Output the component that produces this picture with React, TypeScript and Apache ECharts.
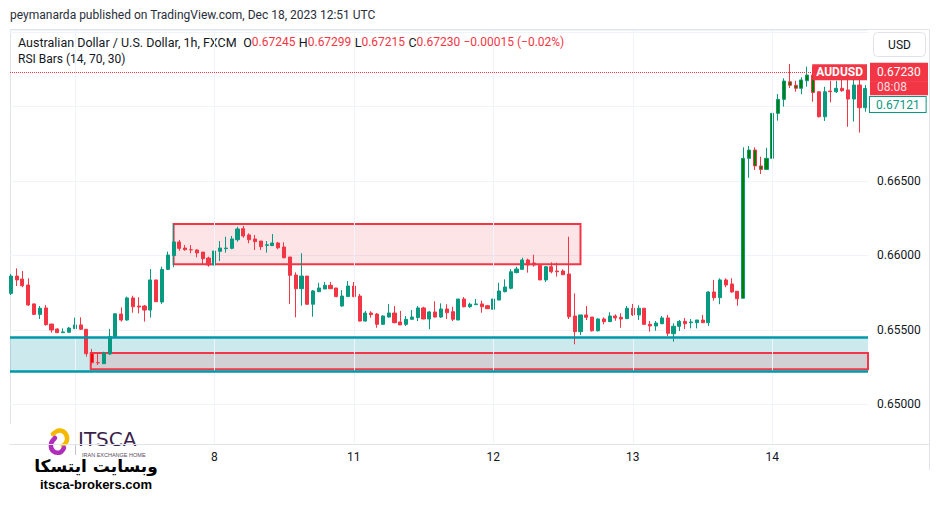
import React, { useEffect, useRef } from 'react';
import * as echarts from 'echarts';

// ---- Candle data (hourly AUDUSD, Dec 6 13:00 -> Dec 14 16:00 UTC) ----
const opens = [
  0.65746, 0.65862, 0.65842, 0.65802, 0.65675, 0.65605, 0.65648, 0.6554, 0.65507, 0.65482,
  0.65485, 0.65509, 0.65534, 0.65505, 0.65344, 0.65281, 0.65274, 0.65339, 0.65455, 0.65607,
  0.65567, 0.65715, 0.65661, 0.65661, 0.65634, 0.65836, 0.65688, 0.65907, 0.65999, 0.66091,
  0.6605, 0.66039, 0.66037, 0.66023, 0.65983, 0.65936, 0.66028, 0.66046, 0.66048, 0.66106,
  0.6618, 0.66138, 0.66111, 0.66097, 0.66068, 0.66066, 0.66084, 0.66057, 0.6599, 0.65869,
  0.65777, 0.65862, 0.65673, 0.65757, 0.65775, 0.658, 0.65782, 0.65661, 0.65724, 0.65795,
  0.65728, 0.6556, 0.65614, 0.65607, 0.65538, 0.65587, 0.65614, 0.65554, 0.65538, 0.65572,
  0.65583, 0.65648, 0.65574, 0.65621, 0.65587, 0.65641, 0.65623, 0.65567, 0.65708, 0.65656,
  0.6567, 0.65675, 0.65663, 0.65639, 0.65701, 0.65757, 0.6578, 0.65885, 0.65907, 0.6597,
  0.6595, 0.65934, 0.65836, 0.65925, 0.65896, 0.65896, 0.65876, 0.65594, 0.65489, 0.65601,
  0.65587, 0.65495, 0.65574, 0.65556, 0.65594, 0.65585, 0.65576, 0.65646, 0.65601, 0.65646,
  0.65538, 0.65527, 0.65542, 0.65581, 0.65475, 0.65525, 0.65558, 0.65549, 0.65549, 0.65567,
  0.65549, 0.65755, 0.65717, 0.65836, 0.65809, 0.6576, 0.65713, 0.66652, 0.66708, 0.66601,
  0.66578, 0.66652, 0.66954, 0.67048, 0.67166, 0.67142, 0.67122, 0.67173, 0.67211, 0.67099,
  0.66931, 0.67104, 0.67099, 0.67122, 0.67111, 0.6705, 0.67144, 0.66992,
];
const closes = [
  0.65862, 0.65836, 0.65797, 0.65668, 0.65605, 0.65646, 0.65536, 0.655, 0.65482, 0.65487,
  0.65513, 0.65534, 0.65505, 0.65341, 0.65281, 0.6528, 0.65346, 0.65455, 0.65609, 0.65567,
  0.65715, 0.65656, 0.65654, 0.65634, 0.65836, 0.6569, 0.65907, 0.66003, 0.66091, 0.66048,
  0.66039, 0.66038, 0.66017, 0.65979, 0.65936, 0.6603, 0.6605, 0.6605, 0.66111, 0.66178,
  0.66131, 0.66106, 0.66093, 0.66059, 0.66072, 0.66084, 0.66052, 0.65985, 0.65867, 0.65777,
  0.65862, 0.65673, 0.65762, 0.65782, 0.658, 0.65777, 0.65724, 0.65728, 0.65795, 0.65724,
  0.6556, 0.65614, 0.65603, 0.65538, 0.65594, 0.65614, 0.65549, 0.65534, 0.65572, 0.65587,
  0.65648, 0.65574, 0.65621, 0.65587, 0.65641, 0.65616, 0.65572, 0.65708, 0.65656, 0.65673,
  0.65675, 0.65656, 0.65643, 0.65708, 0.65762, 0.65789, 0.65891, 0.65909, 0.6597, 0.65936,
  0.65936, 0.65836, 0.65925, 0.65891, 0.65891, 0.65871, 0.65589, 0.65489, 0.65601, 0.65585,
  0.65495, 0.65574, 0.65556, 0.65594, 0.65581, 0.65574, 0.65646, 0.65601, 0.65646, 0.65538,
  0.65527, 0.65547, 0.65581, 0.65478, 0.65525, 0.65558, 0.65542, 0.65554, 0.65567, 0.65549,
  0.65755, 0.65717, 0.65836, 0.65802, 0.65755, 0.6571, 0.66652, 0.66708, 0.66601, 0.66578,
  0.66652, 0.66954, 0.67048, 0.67171, 0.67142, 0.67122, 0.67178, 0.67211, 0.67094, 0.66931,
  0.67099, 0.67099, 0.67122, 0.67106, 0.6705, 0.67144, 0.66992, 0.67121,
];
const lows = [
  0.65735, 0.65795, 0.65787, 0.65661, 0.65601, 0.65574, 0.65529, 0.65482, 0.6548, 0.6548,
  0.6548, 0.65507, 0.655, 0.65321, 0.65265, 0.65265, 0.65272, 0.65332, 0.65451, 0.65556,
  0.65562, 0.65616, 0.65612, 0.65556, 0.65583, 0.65688, 0.65675, 0.65903, 0.65921, 0.66032,
  0.66032, 0.66015, 0.65988, 0.65943, 0.65925, 0.65936, 0.65963, 0.66019, 0.66042, 0.66093,
  0.66119, 0.66082, 0.66037, 0.66037, 0.66019, 0.66066, 0.66042, 0.65981, 0.65675, 0.65585,
  0.65663, 0.65668, 0.65589, 0.65757, 0.65775, 0.65777, 0.6572, 0.65656, 0.65724, 0.6572,
  0.65556, 0.65556, 0.65583, 0.65515, 0.65534, 0.65583, 0.65545, 0.65534, 0.65527, 0.65567,
  0.6556, 0.65572, 0.65505, 0.65583, 0.65581, 0.65574, 0.6556, 0.65567, 0.65652, 0.65649,
  0.6567, 0.65616, 0.65641, 0.65634, 0.65701, 0.65753, 0.65773, 0.65881, 0.65903, 0.65885,
  0.65925, 0.65836, 0.65822, 0.65881, 0.65858, 0.65869, 0.65574, 0.65404, 0.65466, 0.65567,
  0.65489, 0.65489, 0.65538, 0.65554, 0.65562, 0.65515, 0.65574, 0.65594, 0.65567, 0.65538,
  0.65489, 0.65495, 0.65542, 0.6546, 0.65422, 0.65493, 0.65507, 0.65511, 0.65511, 0.65549,
  0.65527, 0.65697, 0.65673, 0.65787, 0.6575, 0.65663, 0.65713, 0.66522, 0.66574, 0.66547,
  0.66574, 0.66612, 0.66905, 0.66999, 0.67124, 0.67099, 0.67082, 0.67133, 0.67032, 0.66927,
  0.66903, 0.67028, 0.67091, 0.67099, 0.66864, 0.66899, 0.66825, 0.66965,
];
const highs = [
  0.65876, 0.65914, 0.65896, 0.65847, 0.65678, 0.65661, 0.65668, 0.65541, 0.65511, 0.65511,
  0.6552, 0.65583, 0.65585, 0.65505, 0.65373, 0.65339, 0.65354, 0.65507, 0.65609, 0.65652,
  0.65724, 0.6573, 0.6572, 0.65668, 0.65909, 0.65836, 0.65925, 0.66026, 0.66211, 0.66104,
  0.6607, 0.6607, 0.66042, 0.66023, 0.65992, 0.66064, 0.66097, 0.66126, 0.66131, 0.66193,
  0.66198, 0.66149, 0.66138, 0.66097, 0.66097, 0.66144, 0.66091, 0.66089, 0.6599, 0.65887,
  0.66015, 0.65862, 0.65768, 0.65817, 0.65822, 0.65822, 0.65782, 0.65768, 0.65829, 0.65822,
  0.65742, 0.65628, 0.65626, 0.65614, 0.65598, 0.65675, 0.65661, 0.65628, 0.65594, 0.65634,
  0.65661, 0.65656, 0.65628, 0.65693, 0.65679, 0.65673, 0.65656, 0.65708, 0.65721, 0.65683,
  0.65708, 0.65697, 0.65668, 0.65768, 0.65817, 0.6584, 0.65909, 0.65925, 0.65985, 0.65979,
  0.66005, 0.65934, 0.65929, 0.65954, 0.65952, 0.65907, 0.66126, 0.65746, 0.65601, 0.65661,
  0.65587, 0.65579, 0.65585, 0.65619, 0.65605, 0.65612, 0.65661, 0.65675, 0.65666, 0.65646,
  0.6556, 0.6556, 0.65594, 0.65601, 0.65545, 0.65567, 0.65581, 0.65574, 0.65567, 0.65601,
  0.6576, 0.65836, 0.65847, 0.65847, 0.65847, 0.6576, 0.66726, 0.66735, 0.66726, 0.66663,
  0.66723, 0.66965, 0.67084, 0.67189, 0.67285, 0.67173, 0.67196, 0.67267, 0.67267, 0.67099,
  0.67133, 0.67173, 0.67173, 0.67191, 0.67178, 0.67198, 0.67231, 0.67144,
];

// RSI bar colouring (oversold / overbought candles)
const oversoldIdx = [14];
const overboughtIdx = [126, 127, 128, 129, 130, 131, 132, 133, 134, 135, 136, 137, 138];

// x axis: candle index of each day start
const dayTickIdx = [11, 35, 59, 83, 107, 131];
const dayTickLabels = ['7', '8', '11', '12', '13', '14'];
const labelledDayIdx = [35, 59, 83, 107, 131];
const xMin = -0.14;
const xMax = 147.46;

// y axis
const yMin = 0.647349;
const yMax = 0.675134;
const yTickValues = [0.65, 0.655, 0.66, 0.665];
const yTickLabels = ['0.65000', '0.65500', '0.66000', '0.66500'];

// drawings
const supplyZoneIdx = [28, 98];
const supplyZonePrice = [0.66211, 0.65941];
const supportBandPrice = [0.65453, 0.65225];
const lowZoneStartIdx = 13.75;
const lowZonePrice = [0.65346, 0.65236];

// price labels
const lastPrice = 0.6723;
const lastPriceText = '0.67230';
const countdownText = '08:08';
const lastBarClose = 0.67121;
const lastBarCloseText = '0.67121';
const symbolText = 'AUDUSD';

const UP = '#089981';
const DOWN = '#f23645';
const OB = '#008000';
const OS = '#ff0000';
const TEAL = '#0097a7';
const FONT = 'Roboto, "Liberation Sans", sans-serif';
const TXT = '#131722';
const GRID = '#f0f3fa';
const FRAME = '#e0e3eb';
const CLEAR = 'rgba(0,0,0,0)';

export default function App() {
  const ref = useRef<HTMLDivElement>(null);

  useEffect(() => {
    if (!ref.current) return;
    const chart = echarts.init(ref.current, undefined, { renderer: 'svg' });

    const candleData = opens.map((o, i) => {
      const item: any = { value: [i, o, closes[i], lows[i], highs[i]] };
      if (overboughtIdx.includes(i)) item.itemStyle = { color: OB, color0: OB };
      if (oversoldIdx.includes(i)) item.itemStyle = { color: OS, color0: OS };
      return item;
    });

    const option: any = {
      animation: false,
      backgroundColor: '#ffffff',
      textStyle: { fontFamily: FONT },
      grid: { left: 10, right: 71, top: 30, bottom: 62, containLabel: false },
      xAxis: {
        type: 'value',
        min: xMin,
        max: xMax,
        axisLine: { show: true, lineStyle: { color: FRAME } },
        axisTick: { show: false },
        splitLine: { show: false },
        axisLabel: {
          customValues: labelledDayIdx,
          color: TXT,
          fontSize: 12,
          margin: 7,
          fontFamily: FONT,
          formatter: (v: number) => {
            const k = dayTickIdx.indexOf(Math.round(v));
            return k >= 0 && Math.abs(v - Math.round(v)) < 1e-6 ? dayTickLabels[k] : '';
          },
        },
      },
      yAxis: {
        type: 'value',
        position: 'right',
        min: yMin,
        max: yMax,
        scale: true,
        axisLine: { show: false },
        axisTick: { show: false },
        splitLine: { show: true, lineStyle: { color: GRID, width: 1 } },
        axisLabel: {
          color: TXT,
          fontSize: 12,
          margin: 9,
          fontFamily: FONT,
          showMinLabel: false,
          showMaxLabel: false,
          formatter: (v: number) => {
            const k = yTickValues.findIndex((t) => Math.abs(t - v) < 1e-7);
            return k >= 0 ? yTickLabels[k] : '';
          },
        },
      },
      series: [
        {
          type: 'line',
          data: [],
          z: 1,
          silent: true,
          clip: false,
          markLine: {
            silent: true,
            precision: 6,
            symbol: ['none', 'none'],
            label: { show: false },
            lineStyle: { color: GRID, type: 'solid', width: 1 },
            data: dayTickIdx.map((d) => ({ xAxis: d })),
          },
        },
        {
          type: 'candlestick',
          data: candleData,
          z: 2,
          barWidth: 3.6,
          itemStyle: {
            color: UP,
            color0: DOWN,
            borderColor: UP,
            borderColor0: DOWN,
            borderWidth: 1,
          },
        },
        {
          type: 'line',
          data: [],
          z: 3,
          silent: true,
          clip: false,
          markArea: {
            silent: true,
            data: [
              [
                {
                  xAxis: xMin,
                  yAxis: supportBandPrice[0],
                  itemStyle: { color: 'rgba(0,151,167,0.2)', borderWidth: 0 },
                },
                { xAxis: xMax, yAxis: supportBandPrice[1] },
              ],
              [
                {
                  xAxis: lowZoneStartIdx,
                  yAxis: lowZonePrice[0],
                  itemStyle: { color: 'rgba(242,54,69,0.14)', borderColor: DOWN, borderWidth: 2 },
                },
                { xAxis: xMax, yAxis: lowZonePrice[1] },
              ],
              [
                {
                  xAxis: supplyZoneIdx[0],
                  yAxis: supplyZonePrice[0],
                  itemStyle: { color: 'rgba(242,54,69,0.13)', borderColor: DOWN, borderWidth: 2 },
                },
                { xAxis: supplyZoneIdx[1], yAxis: supplyZonePrice[1] },
              ],
            ],
          },
          markLine: {
            silent: true,
            precision: 6,
            symbol: ['none', 'none'],
            data: [
              {
                yAxis: supportBandPrice[0],
                lineStyle: { color: TEAL, type: 'solid', width: 2.5 },
                label: { show: false },
              },
              {
                yAxis: supportBandPrice[1],
                lineStyle: { color: TEAL, type: 'solid', width: 2.5 },
                label: { show: false },
              },
              {
                // countdown part of the last-price tag, sitting under the price
                yAxis: lastPrice,
                lineStyle: { color: CLEAR, width: 0 },
                label: {
                  show: true,
                  position: 'end',
                  distance: 2,
                  padding: 0,
                  formatter: () => `{gap| }\n{t|${countdownText}}`,
                  rich: {
                    gap: { height: 32, lineHeight: 32, fontSize: 2, color: CLEAR },
                    t: {
                      color: '#ffdfe2',
                      backgroundColor: DOWN,
                      width: 44,
                      fontSize: 12,
                      lineHeight: 14,
                      padding: [0, 7, 2, 7],
                      fontFamily: FONT,
                    },
                  },
                },
              },
              {
                yAxis: lastPrice,
                lineStyle: { color: DOWN, type: 'dotted', width: 1 },
                label: {
                  show: true,
                  position: 'end',
                  distance: 2,
                  backgroundColor: DOWN,
                  color: '#ffffff',
                  width: 44,
                  fontSize: 12,
                  lineHeight: 15,
                  padding: [2, 7, 2, 7],
                  fontFamily: FONT,
                  formatter: () => lastPriceText,
                },
              },
              {
                yAxis: lastPrice,
                lineStyle: { color: CLEAR, width: 0 },
                label: {
                  show: true,
                  position: 'insideEnd',
                  distance: 1,
                  backgroundColor: DOWN,
                  color: '#ffffff',
                  fontWeight: 'bold',
                  fontSize: 12,
                  lineHeight: 12,
                  padding: [2, 4, 2, 4],
                  fontFamily: FONT,
                  formatter: () => symbolText,
                },
              },
              {
                yAxis: lastBarClose,
                lineStyle: { color: CLEAR, width: 0 },
                label: {
                  show: true,
                  position: 'end',
                  distance: 2,
                  formatter: () => `{gap| }\n{box|${lastBarCloseText}}`,
                  rich: {
                    gap: { height: 32, lineHeight: 32, fontSize: 2, color: CLEAR },
                    box: {
                      color: UP,
                      backgroundColor: '#ffffff',
                      borderColor: UP,
                      borderWidth: 1,
                      padding: [2, 6, 1, 6],
                      fontSize: 12,
                      lineHeight: 13,
                      fontFamily: FONT,
                    },
                  },
                },
              },
            ],
          },
        },
      ],
      graphic: [
        // frame lines
        { type: 'line', shape: { x1: 10, y1: 29.5, x2: 929.5, y2: 29.5 }, style: { stroke: FRAME, lineWidth: 1 }, silent: true },
        { type: 'line', shape: { x1: 10.5, y1: 29.5, x2: 10.5, y2: 444 }, style: { stroke: FRAME, lineWidth: 1 }, silent: true },
        { type: 'line', shape: { x1: 929.5, y1: 29.5, x2: 929.5, y2: 470 }, style: { stroke: FRAME, lineWidth: 1 }, silent: true },
        { type: 'line', shape: { x1: 866, y1: 444.5, x2: 929.5, y2: 444.5 }, style: { stroke: FRAME, lineWidth: 1 }, silent: true },
        {
          type: 'text',
          x: 10,
          y: 15,
          silent: true,
          style: {
            text: 'peymanarda published on TradingView.com, Dec 18, 2023 12:51 UTC',
            fill: '#2a2e39',
            fontSize: 12,
            fontFamily: FONT,
            verticalAlign: 'middle',
          },
        },
        {
          type: 'text',
          x: 18,
          y: 42,
          silent: true,
          style: {
            text:
              '{n|Australian Dollar / U.S. Dollar, 1h, FXCM}  {n|O}{r|0.67245} {n|H}{r|0.67299} {n|L}{r|0.67215} {n|C}{r|0.67230} {r|\u22120.00015 (\u22120.02%)}',
            verticalAlign: 'middle',
            rich: {
              n: { fill: TXT, fontSize: 12.5, fontFamily: FONT },
              r: { fill: DOWN, fontSize: 12, fontFamily: FONT },
            },
          },
        },
        {
          type: 'text',
          x: 18,
          y: 59,
          silent: true,
          style: { text: 'RSI Bars (14, 70, 30)', fill: TXT, fontSize: 12, fontFamily: FONT, verticalAlign: 'middle' },
        },
        {
          type: 'rect',
          shape: { x: 873.5, y: 32.5, width: 52, height: 24, r: 4 },
          style: { fill: '#ffffff', stroke: FRAME, lineWidth: 1 },
          silent: true,
        },
        {
          type: 'text',
          x: 899.5,
          y: 44.5,
          silent: true,
          style: { text: 'USD', fill: TXT, fontSize: 12, fontFamily: FONT, align: 'center', verticalAlign: 'middle' },
        },
        // logo panel
        {
          type: 'group',
          z: 100,
          silent: true,
          children: [
            { type: 'rect', shape: { x: 0, y: 424, width: 184, height: 82 }, style: { fill: '#ffffff' } },
            {
              type: 'polyline',
              shape: { points: [[53, 434], [59, 430.5], [65, 433], [67, 440], [63, 446]], smooth: 0.4 },
              style: { stroke: '#f5b800', lineWidth: 4.5, fill: 'none', lineCap: 'round', lineJoin: 'round' },
            },
            {
              type: 'polyline',
              shape: { points: [[55, 438], [51, 444], [53, 451], [60, 452.5], [64, 448]], smooth: 0.4 },
              style: { stroke: '#b02dbb', lineWidth: 4.5, fill: 'none', lineCap: 'round', lineJoin: 'round' },
            },
            {
              type: 'line',
              shape: { x1: 75.5, y1: 431, x2: 75.5, y2: 455 },
              style: { stroke: '#c9c2cc', lineWidth: 1 },
            },
            {
              type: 'text',
              x: 78,
              y: 438.5,
              style: {
                text: 'ITSCA',
                fill: '#3b1f4a',
                fontSize: 20,
                lineHeight: 14,
                fontFamily: '"DejaVu Sans", sans-serif',
                verticalAlign: 'middle',
              },
            },
            {
              type: 'text',
              x: 82,
              y: 454.5,
              style: {
                text: 'IRAN EXCHANGE HOME',
                fill: '#5a4a60',
                fontSize: 5.5,
                lineHeight: 6,
                fontFamily: '"Liberation Sans", sans-serif',
                verticalAlign: 'middle',
              },
            },
            {
              type: 'text',
              x: 96,
              y: 466,
              style: {
                text: 'وبسایت ایتسکا',
                fill: '#000000',
                fontSize: 17,
                fontWeight: 'bold',
                fontFamily: '"DejaVu Sans", sans-serif',
                align: 'center',
                verticalAlign: 'middle',
              },
            },
            {
              type: 'text',
              x: 96,
              y: 484,
              style: {
                text: 'itsca-brokers.com',
                fill: '#000000',
                fontSize: 13,
                fontWeight: 'bold',
                fontFamily: '"Liberation Sans", sans-serif',
                align: 'center',
                verticalAlign: 'middle',
              },
            },
          ],
        },
      ],
    };

    chart.setOption(option);
    return () => chart.dispose();
  }, []);

  return (
    <div
      ref={ref}
      style={{ position: 'fixed', left: 0, top: 0, width: 939, height: 506, background: '#fff' }}
    />
  );
}
